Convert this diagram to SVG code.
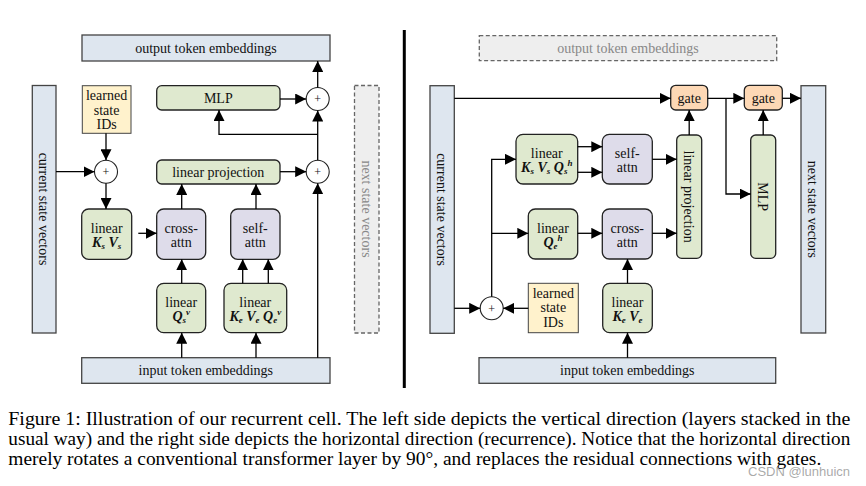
<svg xmlns="http://www.w3.org/2000/svg" width="866" height="486" viewBox="0 0 866 486">
<defs>
<marker id="ah" markerUnits="userSpaceOnUse" markerWidth="11" markerHeight="11" refX="10" refY="5" orient="auto" viewBox="0 0 10 10">
<path d="M0,0 L10,5 L0,10 z" fill="#000"/>
</marker>
</defs>
<style>
text{font-family:"Liberation Serif","Times New Roman",serif;font-size:14px;fill:#111}
.c{text-anchor:middle}
.bar{fill:#dee6ef;stroke:#444;stroke-width:1.3}
.dash{fill:#eeeeee;stroke:#666;stroke-width:1.3;stroke-dasharray:4 2.5}
.g{fill:#dfe9cf;stroke:#222;stroke-width:1.3}
.p{fill:#dedcea;stroke:#222;stroke-width:1.3}
.y{fill:#fff2cc;stroke:#444;stroke-width:1}
.o{fill:#fdd8b5;stroke:#222;stroke-width:1.3}
.pl{fill:#fff;stroke:#222;stroke-width:1.1}
.gr{fill:#888}
.bi{font-weight:bold;font-style:italic}
.sb{font-size:9px;font-weight:bold;font-style:italic}
.conn line,.conn polyline{stroke:#000;stroke-width:1.3;fill:none}
.a{marker-end:url(#ah)}
.cap{font-size:18.6px;fill:#000}
</style>
<rect width="866" height="486" fill="#fff"/>

<!-- divider -->
<line x1="404.3" y1="30" x2="404.3" y2="388" stroke="#000" stroke-width="3"/>

<!-- LEFT SIDE -->
<g id="L_output">
<rect class="bar" x="82" y="35" width="248" height="26"/>
<text class="c" x="206" y="52.7">output token embeddings</text>
</g>
<g id="L_current">
<rect class="bar" x="32.3" y="85.5" width="23.7" height="247.5"/>
<text class="c" x="44.2" y="214" transform="rotate(90 44.2 209)">current state vectors</text>
</g>
<g id="L_next">
<rect class="dash" x="354.5" y="85.5" width="24.5" height="247.5"/>
<text class="c gr" x="366.7" y="214" transform="rotate(90 366.7 209)">next state vectors</text>
</g>
<g id="L_ids">
<rect class="y" x="82.3" y="85.7" width="48.7" height="47.6"/>
<text class="c" x="106.6" y="100">learned</text>
<text class="c" x="106.6" y="114.5">state</text>
<text class="c" x="106.6" y="129.2">IDs</text>
</g>
<g id="L_plus1">
<circle class="pl" cx="106" cy="171.7" r="11.5"/>
<text class="c" x="106" y="176" style="font-size:12px">+</text>
</g>
<g id="L_mlp">
<rect class="g" x="156.7" y="85.7" width="123.3" height="24.3" rx="5"/>
<text class="c" x="218.3" y="103.2">MLP</text>
</g>
<g id="L_plus2">
<circle class="pl" cx="317.7" cy="99" r="11.5"/>
<text class="c" x="317.7" y="103.3" style="font-size:12px">+</text>
</g>
<g id="L_linproj">
<rect class="g" x="156.7" y="160" width="123.3" height="24" rx="5"/>
<text class="c" x="218.3" y="176.6">linear projection</text>
</g>
<g id="L_plus3">
<circle class="pl" cx="317.7" cy="171.7" r="11.5"/>
<text class="c" x="317.7" y="176" style="font-size:12px">+</text>
</g>
<g id="L_linKsVs">
<rect class="g" x="81.7" y="209" width="50" height="50.3" rx="7"/>
<text class="c" x="106.7" y="232.5">linear</text>
<text class="c" x="106.7" y="246.5"><tspan class="bi">K</tspan><tspan class="sb" dy="2.5">s</tspan><tspan class="bi" dy="-2.5"> V</tspan><tspan class="sb" dy="2.5">s</tspan></text>
</g>
<g id="L_cross">
<rect class="p" x="156.7" y="209" width="49" height="50.3" rx="7"/>
<text class="c" x="181.2" y="232.5">cross-</text>
<text class="c" x="181.2" y="246.5">attn</text>
</g>
<g id="L_self">
<rect class="p" x="230.7" y="209" width="49.3" height="50.3" rx="7"/>
<text class="c" x="255.3" y="232.5">self-</text>
<text class="c" x="255.3" y="246.5">attn</text>
</g>
<g id="L_linQs">
<rect class="g" x="156.7" y="283.3" width="49" height="49.4" rx="7"/>
<text class="c" x="181.2" y="306.5">linear</text>
<text class="c" x="181.2" y="320.5"><tspan class="bi">Q</tspan><tspan class="sb" dy="2.5">s</tspan><tspan class="sb" dy="-8.5">v</tspan></text>
</g>
<g id="L_linKeVeQe">
<rect class="g" x="224" y="283.3" width="62.7" height="49.4" rx="7"/>
<text class="c" x="255.3" y="306.5">linear</text>
<text class="c" x="255.3" y="320.5"><tspan class="bi">K</tspan><tspan class="sb" dy="2.5">e</tspan><tspan class="bi" dy="-2.5"> V</tspan><tspan class="sb" dy="2.5">e</tspan><tspan class="bi" dy="-2.5"> Q</tspan><tspan class="sb" dy="2.5">e</tspan><tspan class="sb" dy="-8.5">v</tspan></text>
</g>
<g id="L_input">
<rect class="bar" x="81.7" y="357.7" width="248.3" height="25.6"/>
<text class="c" x="205.8" y="375.2">input token embeddings</text>
</g>

<!-- RIGHT SIDE -->
<g id="R_output">
<rect class="dash" x="479.3" y="35.7" width="297.4" height="25"/>
<text class="c gr" x="628" y="52.7">output token embeddings</text>
</g>
<g id="R_current">
<rect class="bar" x="430" y="85.7" width="24.3" height="247.6"/>
<text class="c" x="442.2" y="214.5" transform="rotate(90 442.2 209.5)">current state vectors</text>
</g>
<g id="R_next">
<rect class="bar" x="801" y="85.7" width="24.7" height="247.3"/>
<text class="c" x="813.4" y="214.3" transform="rotate(90 813.4 209.3)">next state vectors</text>
</g>
<g id="R_gate1">
<rect class="o" x="670.7" y="85.3" width="37" height="24.7" rx="5"/>
<text class="c" x="689.2" y="102.8">gate</text>
</g>
<g id="R_gate2">
<rect class="o" x="744.3" y="85.3" width="38" height="24.7" rx="5"/>
<text class="c" x="763.3" y="102.8">gate</text>
</g>
<g id="R_linproj">
<rect class="g" x="676.7" y="135" width="25" height="123.3" rx="5"/>
<text class="c" x="689.2" y="201.6" transform="rotate(90 689.2 196.6)">linear projection</text>
</g>
<g id="R_mlp">
<rect class="g" x="750.7" y="135" width="25" height="123.3" rx="5"/>
<text class="c" x="763.2" y="201.6" transform="rotate(90 763.2 196.6)">MLP</text>
</g>
<g id="R_linKsVsQs">
<rect class="g" x="516" y="134.3" width="61.7" height="49.7" rx="7"/>
<text class="c" x="546.8" y="157.5">linear</text>
<text class="c" x="546.8" y="171.5"><tspan class="bi">K</tspan><tspan class="sb" dy="2.5">s</tspan><tspan class="bi" dy="-2.5"> V</tspan><tspan class="sb" dy="2.5">s</tspan><tspan class="bi" dy="-2.5"> Q</tspan><tspan class="sb" dy="2.5">s</tspan><tspan class="sb" dy="-8.5">h</tspan></text>
</g>
<g id="R_self">
<rect class="p" x="602.3" y="134.3" width="50" height="49.7" rx="7"/>
<text class="c" x="627.3" y="157.5">self-</text>
<text class="c" x="627.3" y="171.5">attn</text>
</g>
<g id="R_linQe">
<rect class="g" x="528.3" y="209" width="49.4" height="50" rx="7"/>
<text class="c" x="553" y="232.5">linear</text>
<text class="c" x="553" y="246.5"><tspan class="bi">Q</tspan><tspan class="sb" dy="2.5">e</tspan><tspan class="sb" dy="-8.5">h</tspan></text>
</g>
<g id="R_cross">
<rect class="p" x="602.3" y="209" width="50" height="50" rx="7"/>
<text class="c" x="627.3" y="232.5">cross-</text>
<text class="c" x="627.3" y="246.5">attn</text>
</g>
<g id="R_plus">
<circle class="pl" cx="491.7" cy="308.3" r="11.5"/>
<text class="c" x="491.7" y="312.6" style="font-size:12px">+</text>
</g>
<g id="R_ids">
<rect class="y" x="528.3" y="283.3" width="50" height="49.4"/>
<text class="c" x="553.3" y="297.8">learned</text>
<text class="c" x="553.3" y="312.3">state</text>
<text class="c" x="553.3" y="327">IDs</text>
</g>
<g id="R_linKeVe">
<rect class="g" x="602.7" y="283.3" width="49.6" height="49.4" rx="7"/>
<text class="c" x="627.5" y="306.5">linear</text>
<text class="c" x="627.5" y="320.5"><tspan class="bi">K</tspan><tspan class="sb" dy="2.5">e</tspan><tspan class="bi" dy="-2.5"> V</tspan><tspan class="sb" dy="2.5">e</tspan></text>
</g>
<g id="R_input">
<rect class="bar" x="479" y="357.7" width="296.7" height="25.6"/>
<text class="c" x="627.3" y="375.2">input token embeddings</text>
</g>

<!-- CONNECTORS -->
<g id="connectors" class="conn">
<!-- left -->
<line class="a" x1="56" y1="171.7" x2="94.5" y2="171.7"/>
<line class="a" x1="106" y1="133.3" x2="106" y2="160.2"/>
<line class="a" x1="106" y1="183.2" x2="106" y2="209"/>
<line class="a" x1="138.3" y1="233.3" x2="156.7" y2="233.3"/>
<line class="a" x1="181.7" y1="283.3" x2="181.7" y2="259.3"/>
<line class="a" x1="181.7" y1="357.7" x2="181.7" y2="332.7"/>
<line class="a" x1="256" y1="357.7" x2="256" y2="332.7"/>
<line class="a" x1="242.7" y1="283.3" x2="242.7" y2="259.3"/>
<line class="a" x1="268.3" y1="283.3" x2="268.3" y2="259.3"/>
<line class="a" x1="181.7" y1="209" x2="181.7" y2="184"/>
<line class="a" x1="256" y1="209" x2="256" y2="184"/>
<line class="a" x1="317.7" y1="357.7" x2="317.7" y2="183.2"/>
<line class="a" x1="280" y1="171.7" x2="306.2" y2="171.7"/>
<line class="a" x1="317.7" y1="160.2" x2="317.7" y2="110.5"/>
<polyline class="a" points="317.7,134.3 219,134.3 219,110"/>
<line class="a" x1="280" y1="99" x2="306.2" y2="99"/>
<line class="a" x1="317.7" y1="87.5" x2="317.7" y2="61"/>
<!-- right -->
<line class="a" x1="454.3" y1="98.3" x2="670.7" y2="98.3"/>
<line class="a" x1="707.7" y1="98.3" x2="744.3" y2="98.3"/>
<polyline class="a" points="726,98.3 726,194 750.7,194"/>
<line class="a" x1="782.3" y1="98.3" x2="801" y2="98.3"/>
<line class="a" x1="689.2" y1="135" x2="689.2" y2="110"/>
<line class="a" x1="763.2" y1="135" x2="763.2" y2="110"/>
<line class="a" x1="454.3" y1="308.3" x2="480.2" y2="308.3"/>
<line class="a" x1="528.3" y1="308.3" x2="503.2" y2="308.3"/>
<polyline class="a" points="491.7,296.8 491.7,159.3 516,159.3"/>
<line class="a" x1="491.7" y1="233.3" x2="528.3" y2="233.3"/>
<line class="a" x1="577.7" y1="146.7" x2="602.3" y2="146.7"/>
<line class="a" x1="577.7" y1="172.3" x2="602.3" y2="172.3"/>
<line class="a" x1="652.3" y1="159.3" x2="676.7" y2="159.3"/>
<line class="a" x1="577.7" y1="233.3" x2="602.3" y2="233.3"/>
<line class="a" x1="652.3" y1="233.3" x2="676.7" y2="233.3"/>
<line class="a" x1="627.5" y1="283.3" x2="627.5" y2="259"/>
<line class="a" x1="627.5" y1="357.7" x2="627.5" y2="332.7"/>
</g>

<!-- CAPTION -->
<g id="caption">
<text class="cap" x="8.3" y="425" textLength="842" lengthAdjust="spacingAndGlyphs">Figure 1: Illustration of our recurrent cell. The left side depicts the vertical direction (layers stacked in the</text>
<text class="cap" x="8.3" y="445" textLength="842" lengthAdjust="spacingAndGlyphs">usual way) and the right side depicts the horizontal direction (recurrence). Notice that the horizontal direction</text>
<text class="cap" x="8.3" y="465" textLength="813" lengthAdjust="spacingAndGlyphs">merely rotates a conventional transformer layer by 90°, and replaces the residual connections with gates.</text>
<text x="748" y="475.5" style="font-family:'Liberation Sans',Arial,sans-serif;font-size:13px;fill:#9a9a9a;fill-opacity:0.85">CSDN @lunhuicn</text>
</g>
</svg>
